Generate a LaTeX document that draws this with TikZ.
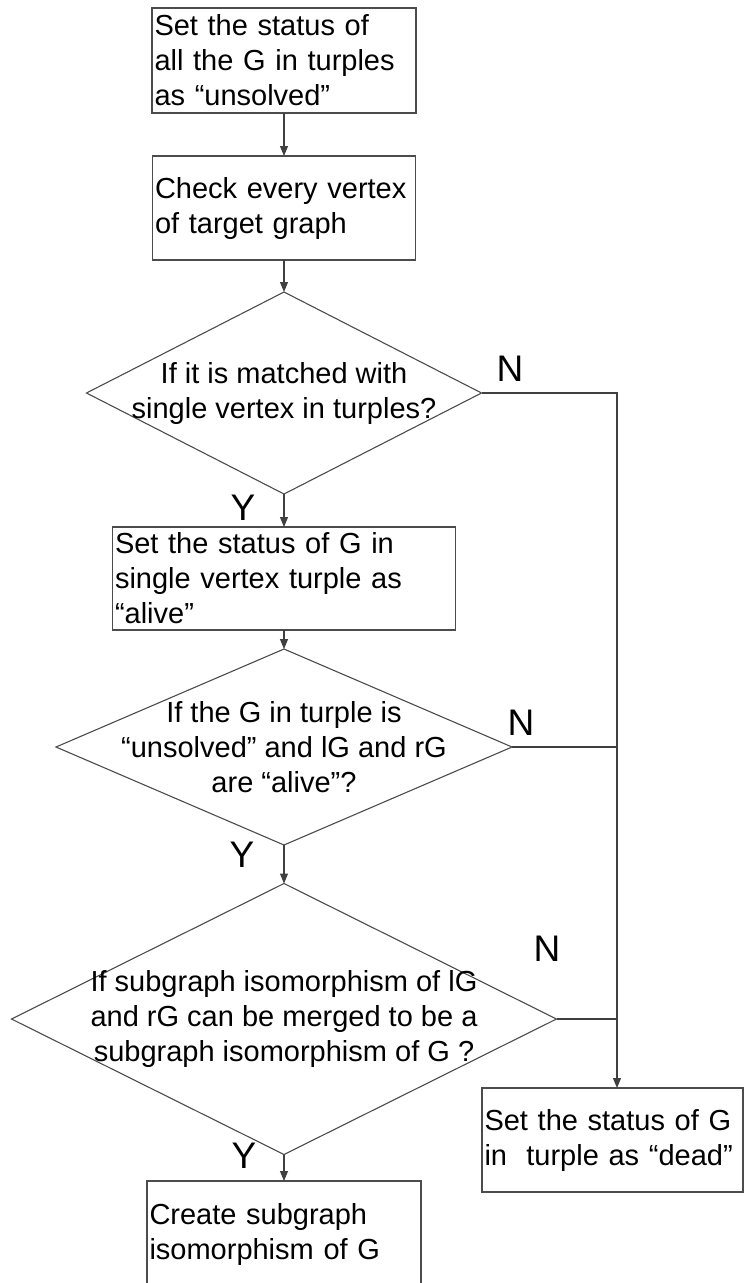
\documentclass[tikz,border=0pt]{standalone}
\usepackage{fontspec}
\setmainfont{Liberation Sans}
\usetikzlibrary{shapes.geometric,arrows.meta}

\begin{document}
\begin{tikzpicture}[x=1pt,y=-1pt,
  line/.style={draw=black!75, line width=1.1pt},
  procbox/.style={rectangle, draw=black!70, line width=1.2pt, inner xsep=2.5pt,
    inner ysep=0pt, outer sep=0pt, align=left,
    font=\fontsize{29pt}{35pt}\selectfont},
  decision/.style={diamond, draw=black!70, line width=1.1pt, inner sep=0pt,
    outer sep=0pt},
  qtext/.style={align=center, inner sep=0pt,
    font=\fontsize{29pt}{35pt}\selectfont},
  answer/.style={anchor=base, inner sep=0pt,
    font=\fontsize{37pt}{40pt}\selectfont},
  flow/.style={line, -{Triangle[length=10pt,width=8pt]}},
]
% canvas
\fill[white] (0,0) rectangle (744,1283);
\useasboundingbox (0,0) rectangle (744,1283);

% process boxes
\node[procbox, text width=259pt, minimum height=105pt] (b1) at (284,60.5)
  {Set the status of\\all the G in turples\\as “unsolved”};
\node[procbox, text width=258pt, minimum height=104pt] (b2) at (284,208)
  {Check every vertex\\of target graph};
\node[procbox, text width=338pt, minimum height=103pt] (b3) at (284,578.5)
  {Set the status of G in\\single vertex turple as\\“alive”};
\node[procbox, text width=256pt, minimum height=104pt] (dead) at (612.5,1140)
  {Set the status of G\\in\ \ turple as “dead”};
\node[procbox, text width=269pt, minimum height=106pt] (create) at (284,1234)
  {Create subgraph\\isomorphism of G};

% decisions
\node[decision, minimum width=395pt, minimum height=202pt] (d1) at (284,393) {};
\node[qtext] (d1t) at (d1.center)
  {If it is matched with\\single vertex in turples?};
\node[decision, minimum width=456pt, minimum height=196pt] (d2) at (284,747) {};
\node[qtext] (d2t) at (d2.center)
  {If the G in turple is\\“unsolved” and lG and rG\\are “alive”?};
\node[decision, minimum width=545pt, minimum height=271pt] (d3) at (284,1019) {};
\node[qtext] (d3t) at (d3.center)
  {If subgraph isomorphism of lG\\and rG can be merged to be a\\subgraph isomorphism of G ?};

% main flow
\draw[flow] (b1.south) -- (b2.north);
\draw[flow] (b2.south) -- (d1.north);
\draw[flow] (d1.south) -- (b3.north);
\draw[flow] (b3.south) -- (d2.north);
\draw[flow] (d2.south) -- (d3.north);
\draw[flow] (d3.south) -- (create.north);

% "no" branches joining the right-hand line
\coordinate (bus) at (617,393);
\draw[flow] (d1.east) -- (bus) -- (bus |- dead.north);
\draw[line] (d2.east) -- (d2.east -| bus);
\draw[line] (d3.east) -- (d3.east -| bus);

% branch labels
\node[answer] (n1) at (510,381) {N};
\node[answer] (n2) at (521,735) {N};
\node[answer] (n3) at (547,961) {N};
\node[answer] (y1) at (243,520) {Y};
\node[answer] (y2) at (242,867) {Y};
\node[answer] (y3) at (244,1168) {Y};
\end{tikzpicture}
\end{document}
